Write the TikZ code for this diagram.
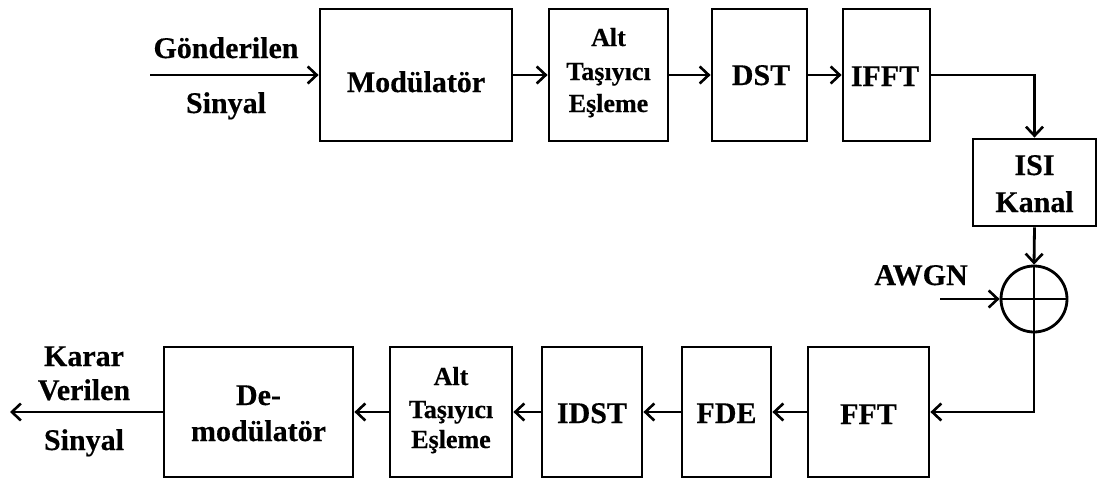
\documentclass[tikz,border=0pt]{standalone}
\usepackage{fontspec}
\setmainfont{Liberation Serif}[BoldFeatures={FakeBold=0.4}]
\usetikzlibrary{arrows.meta}
\begin{document}
\begin{tikzpicture}[x=1pt,y=-1pt,
  blk/.style={draw,line width=2.8pt,inner sep=0pt},
  lbl/.style={anchor=base,inner sep=0pt,font=\bfseries\fontsize{30}{34}\selectfont},
  sml/.style={anchor=base,inner sep=0pt,font=\bfseries\fontsize{26}{30}\selectfont},
  con/.style={line width=2.8pt},
  arr/.style={con,-{Straight Barb[length=9pt,width=17pt,line width=2.6pt]}}]
\useasboundingbox (0,0) rectangle (1098,479);
% top row
\node[blk,minimum width=192pt,minimum height=132pt] (mod) at (416,75) {};
\node[blk,minimum width=119pt,minimum height=132pt] (alt1) at (608.5,75) {};
\node[blk,minimum width=95pt,minimum height=132pt] (dst) at (759.5,75) {};
\node[blk,minimum width=87pt,minimum height=132pt] (ifft) at (886.5,75) {};
\node[blk,minimum width=123pt,minimum height=87pt] (isi) at (1034.5,182.5) {};
\node[draw,line width=2.8pt,circle,minimum size=66pt,inner sep=0pt] (sum) at (1034,299) {};
% bottom row
\node[blk,minimum width=121pt,minimum height=130pt] (fft) at (868.5,412) {};
\node[blk,minimum width=89pt,minimum height=130pt] (fde) at (726.5,412) {};
\node[blk,minimum width=100pt,minimum height=130pt] (idst) at (592,412) {};
\node[blk,minimum width=122pt,minimum height=130pt] (alt2) at (451,412) {};
\node[blk,minimum width=189pt,minimum height=130pt] (demod) at (258.5,412) {};
% texts
\node[lbl] (tin1) at (226,58) {Gönderilen};
\node[lbl] (tin2) at (226,113) {Sinyal};
\node[lbl] (tmod) at (416,92) {Modülatör};
\node[sml] (ta1) at (608.5,46) {Alt};
\node[sml] (ta2) at (608.5,80) {Taşıyıcı};
\node[sml] (ta3) at (608.5,112) {Eşleme};
\node[lbl] (tdst) at (761,85) {DST};
\node[lbl] (tifft) at (885,86) {IFFT};
\node[lbl] (tisi1) at (1034.5,175) {ISI};
\node[lbl] (tisi2) at (1034.5,212) {Kanal};
\node[lbl] (tawgn) at (921,285) {AWGN};
\node[lbl] (tfft) at (868.5,424) {FFT};
\node[lbl] (tfde) at (726.5,423) {FDE};
\node[lbl] (tidst) at (592,423) {IDST};
\node[sml] (tb1) at (451,385) {Alt};
\node[sml] (tb2) at (451,418) {Taşıyıcı};
\node[sml] (tb3) at (451,448) {Eşleme};
\node[lbl] (tde1) at (258.5,405) {De-};
\node[lbl] (tde2) at (258.5,441) {modülatör};
\node[lbl] (tout1) at (84,366) {Karar};
\node[lbl] (tout2) at (84,400) {Verilen};
\node[lbl] (tout3) at (84,450) {Sinyal};
% connectors
\coordinate (in) at (150,75);
\coordinate (nz) at (940,299);
\coordinate (out) at (10,412);
\draw[arr] (in) -- (mod.west);
\draw[arr] (mod.east) -- (alt1.west);
\draw[arr] (alt1.east) -- (dst.west);
\draw[arr] (dst.east) -- (ifft.west);
\draw[arr] (ifft.east) -| (isi.north);
\draw[arr] (isi.south) -- (sum.north);
\draw[arr] (nz) -- (sum.west);
\draw[con] (sum.north) -- (sum.south) (sum.west) -- (sum.east);
\draw[arr] (sum.south) |- (fft.east);
\draw[arr] (fft.west) -- (fde.east);
\draw[arr] (fde.west) -- (idst.east);
\draw[arr] (idst.west) -- (alt2.east);
\draw[arr] (alt2.west) -- (demod.east);
\draw[arr] (demod.west) -- (out);
\end{tikzpicture}
\end{document}
